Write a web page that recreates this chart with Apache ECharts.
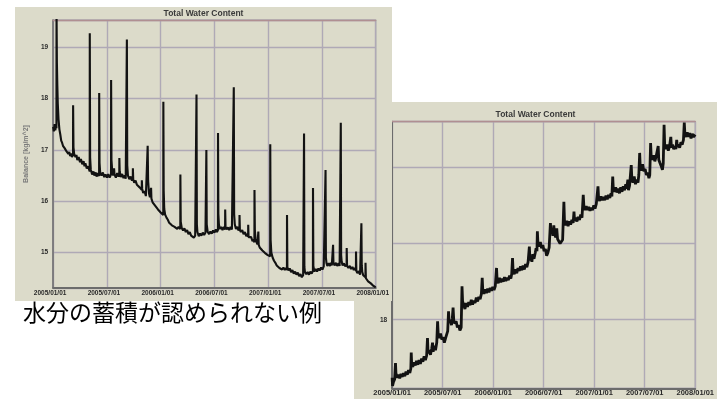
<!DOCTYPE html>
<html>
<head>
<meta charset="utf-8">
<script src="https://cdn.jsdelivr.net/npm/echarts@6/dist/echarts.min.js"></script>
<style>
  html, body { margin: 0; padding: 0; background: #ffffff; width: 717px; height: 399px; overflow: hidden; }
  body { position: relative; }
  .panel { position: absolute; }
  #gainPanel { left: 354px; top: 102px; width: 363px; height: 297px; }
  #lossPanel { left: 15px; top: 7px; width: 377px; height: 294px; }
  #captionPanel { left: 0; top: 297px; width: 354px; height: 34px; }
</style>
</head>
<body>
<div id="gainPanel" class="panel"></div>
<div id="lossPanel" class="panel"></div>
<div id="captionPanel" class="panel"></div>
<script>
// Shared text
const chartTitle = 'Total Water Content';
const yAxisName = 'Balance [kg/m^2]';
const captionText = '水分の蓄積が認められない例';
// x positions are months since 2005/01/01; ticks every 6 months
const xTickLabels = ['2005/01/01', '2005/07/01', '2006/01/01', '2006/07/01', '2007/01/01', '2007/07/01', '2008/01/01'];

// Slowly drying wall: balance [kg/m^2] vs month, with rain-event spikes
const lossBalance = [
  [0,17.45],[0.08,17.36],[0.16,17.5],[0.24,17.38],[0.32,17.46],[0.37,17.42],[0.38,19.7],[0.42,18.7],[0.47,18.25],
  [0.52,17.9],[0.6,17.6],[0.7,17.4],[0.8,17.3],[0.9,17.18],[1.0,17.14],[1.1,17.08],[1.2,17.1],[1.3,17.03],
  [1.4,17.06],[1.5,16.97],[1.6,17.0],[1.7,16.92],[1.8,16.96],[1.9,16.88],[2.0,16.93],[2.1,16.86],[2.22,16.9],
  [2.23,17.87],[2.27,17.05],[2.35,16.92],[2.5,16.86],[2.6,16.9],[2.7,16.8],[2.85,16.86],[3.0,16.76],[3.1,16.82],
  [3.25,16.72],[3.4,16.78],[3.5,16.68],[3.6,16.74],[3.75,16.64],[3.9,16.68],[4.08,16.58],[4.09,19.27],[4.13,16.85],
  [4.2,16.62],[4.35,16.52],[4.5,16.58],[4.6,16.5],[4.75,16.56],[4.85,16.48],[5.0,16.55],[5.13,16.49],[5.14,18.11],
  [5.18,16.75],[5.25,16.56],[5.4,16.5],[5.55,16.56],[5.7,16.47],[5.85,16.52],[6.0,16.46],[6.15,16.53],[6.3,16.46],
  [6.46,16.52],[6.47,18.36],[6.51,16.8],[6.6,16.58],[6.7,16.5],[6.8,16.64],[6.85,16.52],[7.0,16.46],[7.15,16.55],
  [7.3,16.48],[7.38,16.52],[7.39,16.84],[7.43,16.58],[7.55,16.47],[7.7,16.53],[7.85,16.45],[8.0,16.5],[8.1,16.44],
  [8.22,16.47],[8.23,19.15],[8.27,16.7],[8.35,16.5],[8.5,16.43],[8.65,16.48],[8.8,16.4],[8.89,16.44],[8.9,16.64],
  [8.94,16.42],[9.05,16.36],[9.2,16.4],[9.35,16.32],[9.5,16.35],[9.65,16.27],[9.8,16.3],[9.89,16.22],[9.9,16.41],
  [9.94,16.24],[10.05,16.16],[10.2,16.2],[10.35,16.1],[10.54,16.13],[10.55,17.08],[10.6,16.4],[10.7,16.15],
  [10.8,16.08],[10.92,16.1],[10.93,16.26],[10.97,16.05],[11.1,15.98],[11.25,16.01],[11.4,15.91],[11.55,15.94],
  [11.7,15.84],[11.85,15.86],[12.0,15.78],[12.15,15.8],[12.29,15.73],[12.3,17.94],[12.34,16.2],[12.4,15.85],
  [12.5,15.74],[12.65,15.68],[12.8,15.64],[12.95,15.58],[13.1,15.6],[13.25,15.53],[13.4,15.56],[13.55,15.5],
  [13.7,15.53],[13.85,15.46],[14.0,15.5],[14.19,15.46],[14.2,16.52],[14.24,15.6],[14.35,15.48],[14.5,15.43],
  [14.65,15.47],[14.8,15.4],[14.95,15.44],[15.1,15.36],[15.25,15.4],[15.4,15.33],[15.55,15.36],[15.7,15.29],
  [15.85,15.33],[15.99,15.3],[16.0,18.08],[16.04,15.55],[16.1,15.4],[16.25,15.32],[16.4,15.37],[16.55,15.33],
  [16.7,15.39],[16.85,15.34],[17.0,15.39],[17.09,15.36],[17.1,17.0],[17.14,15.55],[17.25,15.4],[17.4,15.36],
  [17.55,15.41],[17.7,15.37],[17.85,15.43],[18.0,15.39],[18.15,15.45],[18.28,15.4],[18.39,15.44],[18.4,17.33],
  [18.44,15.75],[18.5,15.55],[18.6,15.46],[18.75,15.5],[18.9,15.44],[19.05,15.5],[19.19,15.45],[19.2,15.84],
  [19.24,15.5],[19.35,15.45],[19.5,15.49],[19.65,15.44],[19.8,15.5],[19.95,15.45],[20.15,15.48],[20.16,18.22],
  [20.2,15.75],[20.27,15.55],[20.4,15.46],[20.55,15.5],[20.68,15.43],[20.79,15.47],[20.8,15.73],[20.84,15.44],
  [20.95,15.4],[21.1,15.44],[21.25,15.36],[21.4,15.4],[21.55,15.32],[21.68,15.36],[21.76,15.31],[21.77,15.54],
  [21.81,15.3],[21.95,15.27],[22.1,15.3],[22.25,15.22],[22.35,15.26],[22.46,15.2],[22.47,16.22],[22.51,15.45],
  [22.58,15.28],[22.7,15.2],[22.8,15.16],[22.89,15.18],[22.9,15.41],[22.94,15.15],[23.05,15.1],[23.2,15.13],
  [23.35,15.04],[23.5,15.06],[23.65,14.99],[23.8,15.02],[23.95,14.95],[24.1,14.97],[24.22,14.93],[24.23,17.11],
  [24.27,15.25],[24.35,15.0],[24.5,14.9],[24.65,14.84],[24.8,14.8],[24.95,14.75],[25.1,14.77],[25.25,14.7],
  [25.4,14.73],[25.55,14.67],[25.7,14.71],[25.85,14.66],[26.0,14.7],[26.09,14.66],[26.1,15.73],[26.14,14.72],
  [26.25,14.65],[26.4,14.69],[26.55,14.62],[26.7,14.66],[26.85,14.59],[27.0,14.63],[27.15,14.57],[27.3,14.61],
  [27.45,14.54],[27.6,14.58],[27.75,14.52],[27.9,14.56],[27.99,14.53],[28.0,17.32],[28.04,14.72],[28.1,14.62],
  [28.25,14.58],[28.4,14.62],[28.55,14.57],[28.7,14.63],[28.85,14.59],[28.99,14.64],[29.0,16.26],[29.04,14.74],
  [29.15,14.63],[29.3,14.68],[29.45,14.63],[29.6,14.69],[29.75,14.65],[29.9,14.71],[30.05,14.67],[30.2,14.73],
  [30.39,14.7],[30.4,16.61],[30.44,14.9],[30.5,14.8],[30.6,14.74],[30.75,14.79],[30.9,14.74],[31.0,14.8],
  [31.1,14.75],[31.23,14.78],[31.24,15.15],[31.28,14.8],[31.4,14.75],[31.55,14.8],[31.7,14.74],[31.85,14.79],
  [31.97,14.74],[32.09,14.77],[32.1,17.53],[32.14,14.95],[32.2,14.82],[32.3,14.75],[32.45,14.79],[32.6,14.73],
  [32.75,14.77],[32.76,15.09],[32.8,14.74],[32.95,14.7],[33.1,14.74],[33.25,14.68],[33.4,14.72],[33.55,14.66],
  [33.68,14.7],[33.79,14.65],[33.8,15.02],[33.84,14.64],[33.95,14.6],[34.1,14.64],[34.25,14.57],[34.39,14.6],
  [34.4,15.57],[34.44,14.75],[34.5,14.62],[34.6,14.56],[34.72,14.58],[34.85,14.52],[34.86,14.8],[34.9,14.5],
  [35.0,14.48],[35.15,14.44],[35.3,14.45],[35.45,14.4],[35.6,14.39],[35.75,14.35],[35.9,14.34],[36.0,14.32]
];

// Wetting wall: balance [kg/m^2] vs month, rising step by step
const gainBalance = [
  [0,17.24],[0.05,17.13],[0.15,17.18],[0.3,17.22],[0.4,17.43],[0.45,17.3],[0.6,17.24],[0.75,17.28],[0.9,17.23],
  [1.05,17.29],[1.2,17.25],[1.35,17.3],[1.5,17.26],[1.65,17.32],[1.8,17.28],[1.95,17.34],[2.1,17.3],[2.22,17.36],
  [2.27,17.57],[2.32,17.42],[2.45,17.38],[2.6,17.44],[2.75,17.4],[2.9,17.46],[3.05,17.41],[3.2,17.47],[3.35,17.42],
  [3.5,17.49],[3.65,17.45],[3.8,17.52],[3.95,17.47],[4.1,17.53],[4.2,17.76],[4.27,17.56],[4.4,17.6],[4.55,17.54],
  [4.7,17.62],[4.8,17.7],[4.87,17.58],[5.0,17.66],[5.15,17.6],[5.3,17.7],[5.4,17.98],[5.47,17.82],[5.6,17.76],
  [5.75,17.82],[5.9,17.74],[6.05,17.77],[6.2,17.7],[6.35,17.76],[6.5,17.74],[6.6,17.85],[6.7,18.11],[6.77,17.97],
  [6.9,18.0],[7.05,17.93],[7.15,18.02],[7.24,18.16],[7.32,17.99],[7.45,17.95],[7.6,17.98],[7.75,17.9],[7.9,17.93],
  [8.05,17.86],[8.2,17.9],[8.3,18.44],[8.37,18.24],[8.5,18.2],[8.65,18.14],[8.8,18.22],[8.95,18.17],[9.1,18.23],
  [9.25,18.19],[9.4,18.26],[9.55,18.2],[9.7,18.25],[9.85,18.22],[10.0,18.29],[10.15,18.24],[10.3,18.3],[10.45,18.27],
  [10.6,18.34],[10.7,18.55],[10.77,18.38],[10.9,18.34],[11.05,18.4],[11.2,18.35],[11.35,18.41],[11.5,18.36],
  [11.65,18.42],[11.8,18.38],[11.95,18.43],[12.1,18.39],[12.25,18.44],[12.4,18.68],[12.47,18.52],[12.6,18.48],
  [12.75,18.55],[12.9,18.49],[13.05,18.54],[13.2,18.5],[13.35,18.56],[13.5,18.51],[13.65,18.55],[13.8,18.52],
  [13.95,18.58],[14.1,18.54],[14.2,18.6],[14.3,18.81],[14.37,18.63],[14.5,18.6],[14.65,18.66],[14.8,18.61],
  [14.95,18.68],[15.1,18.64],[15.25,18.7],[15.4,18.65],[15.55,18.71],[15.7,18.66],[15.85,18.73],[16.0,18.69],
  [16.15,18.76],[16.3,18.96],[16.37,18.78],[16.5,18.82],[16.6,18.76],[16.7,18.86],[16.85,18.8],[17.0,18.88],
  [17.1,18.94],[17.2,18.9],[17.25,19.16],[17.32,19.0],[17.45,18.96],[17.6,19.02],[17.75,18.94],[17.9,18.98],
  [18.05,18.9],[18.2,18.93],[18.35,18.84],[18.5,18.88],[18.65,18.95],[18.8,19.27],[18.87,19.14],[19.0,19.2],
  [19.1,19.1],[19.2,19.24],[19.3,19.12],[19.45,19.08],[19.55,19.2],[19.65,19.06],[19.8,19.04],[19.95,19.0],
  [20.1,18.98],[20.25,19.05],[20.4,19.55],[20.47,19.3],[20.6,19.24],[20.75,19.3],[20.9,19.23],[21.05,19.29],
  [21.2,19.25],[21.35,19.31],[21.5,19.27],[21.6,19.42],[21.67,19.3],[21.8,19.34],[21.95,19.29],[22.1,19.35],
  [22.25,19.31],[22.4,19.38],[22.55,19.34],[22.7,19.64],[22.77,19.5],[22.9,19.44],[23.05,19.49],[23.2,19.44],
  [23.35,19.48],[23.5,19.43],[23.65,19.47],[23.8,19.44],[23.95,19.5],[24.1,19.46],[24.25,19.52],[24.35,19.5],
  [24.45,19.75],[24.52,19.6],[24.65,19.56],[24.8,19.62],[24.95,19.57],[25.1,19.61],[25.25,19.57],[25.4,19.63],
  [25.55,19.58],[25.7,19.64],[25.85,19.6],[26.0,19.66],[26.1,19.62],[26.2,19.88],[26.27,19.72],[26.4,19.68],
  [26.55,19.74],[26.7,19.67],[26.85,19.72],[27.0,19.66],[27.15,19.74],[27.3,19.68],[27.45,19.75],[27.6,19.7],
  [27.75,19.78],[27.85,19.72],[28.0,19.84],[28.07,19.7],[28.2,19.76],[28.3,19.74],[28.4,20.03],[28.47,19.86],
  [28.6,19.8],[28.75,19.88],[28.9,19.78],[29.05,19.84],[29.2,19.8],[29.3,19.9],[29.4,20.19],[29.47,20.0],
  [29.6,19.96],[29.75,20.04],[29.9,19.95],[30.05,19.98],[30.2,19.9],[30.35,19.93],[30.5,19.86],[30.6,19.9],
  [30.7,20.32],[30.77,20.14],[30.9,20.1],[31.05,20.16],[31.2,20.08],[31.35,20.14],[31.5,20.12],[31.6,20.28],
  [31.67,20.1],[31.8,20.06],[31.95,20.02],[32.1,19.97],[32.2,20.05],[32.3,20.56],[32.37,20.3],[32.5,20.24],
  [32.65,20.3],[32.8,20.22],[32.95,20.28],[33.1,20.4],[33.17,20.26],[33.3,20.3],[33.45,20.24],[33.6,20.28],
  [33.7,20.24],[33.8,20.36],[33.87,20.27],[34.0,20.3],[34.15,20.26],[34.3,20.33],[34.45,20.3],[34.6,20.36],
  [34.7,20.59],[34.77,20.44],[34.9,20.4],[35.05,20.46],[35.2,20.4],[35.35,20.45],[35.5,20.38],[35.65,20.44],
  [35.8,20.4],[36.0,20.43]
];

// Colours of the old plotting program
const panelBg = '#dcdbca';
const gridColor = '#afa9b6';
const frameColor = '#9c9ca4';
const topFrameColor = '#b08f92';
const axisColor = '#6c6c6c';
const traceColor = '#121212';

function panelOption(cfg) {
  return {
    animation: false,
    backgroundColor: panelBg,
    textStyle: { fontFamily: '"Liberation Sans", Arial, sans-serif' },
    title: {
      text: chartTitle,
      left: 'center',
      top: cfg.titleTop,
      padding: cfg.titlePadding,
      textStyle: { fontSize: 8.5, fontWeight: 'bold', color: '#3a3a3a' }
    },
    grid: {
      left: cfg.grid.left, top: cfg.grid.top, width: cfg.grid.width, height: cfg.grid.height,
      show: true, borderColor: frameColor, borderWidth: 1.2, backgroundColor: 'transparent'
    },
    xAxis: [
      {
        type: 'value', min: 0, max: 36, interval: 6, position: 'bottom',
        axisLine: { onZero: false, lineStyle: { color: axisColor, width: 2 } },
        axisTick: { show: false },
        splitLine: { show: true, lineStyle: { color: gridColor, width: 1.4 } },
        axisLabel: {
          formatter: v => xTickLabels[Math.round(v / 6)],
          fontSize: cfg.xFont, fontWeight: 'bold', color: '#2a2a2a',
          margin: cfg.xMargin, padding: cfg.xPad
        }
      },
      {
        type: 'value', min: 0, max: 36, position: 'top',
        axisLine: { onZero: false, lineStyle: { color: topFrameColor, width: 1.3 } },
        axisTick: { show: false }, axisLabel: { show: false }, splitLine: { show: false }
      }
    ],
    yAxis: {
      type: 'value', min: cfg.yMin, max: cfg.yMax, minInterval: 1, maxInterval: 1,
      name: yAxisName, nameLocation: 'middle', nameGap: 12, nameRotate: 90,
      nameTextStyle: { fontSize: 7, fontWeight: 'bold', color: '#7a7a7a' },
      axisLine: { show: true, onZero: false, lineStyle: { color: axisColor, width: cfg.yLineWidth } },
      axisTick: { show: false },
      splitLine: { show: true, lineStyle: { color: gridColor, width: 1.4 } },
      axisLabel: { fontSize: 6.5, fontWeight: 'bold', color: '#2a2a2a', margin: 5, showMinLabel: false, showMaxLabel: false }
    },
    series: [{
      type: 'line', data: cfg.data, showSymbol: false, clip: true,
      lineStyle: { color: traceColor, width: cfg.traceWidth }
    }]
  };
}

const gainChart = echarts.init(document.getElementById('gainPanel'), null, { renderer: 'canvas' });
gainChart.setOption(panelOption({
  grid: { left: 23, top: 19.7, width: 338, height: 266.6 },
  titleTop: 8, titlePadding: [0, 0, 0, 0],
  yMin: 17.1, yMax: 20.6, yLineWidth: 2,
  xFont: 7.5, xMargin: 1, xPad: [0, 0, 0, 0],
  traceWidth: 2.8,
  data: gainBalance
}));

const lossChart = echarts.init(document.getElementById('lossPanel'), null, { renderer: 'canvas' });
lossChart.setOption(panelOption({
  grid: { left: 25.5, top: 13, width: 340.5, height: 268 },
  titleTop: 2, titlePadding: [0, 11, 0, 0],
  yMin: 14.31, yMax: 19.53, yLineWidth: 1.5,
  xFont: 6.5, xMargin: 2, xPad: [0, 6, 0, 0],
  traceWidth: 2.1,
  data: lossBalance
}));

const captionChart = echarts.init(document.getElementById('captionPanel'), null, { renderer: 'canvas' });
captionChart.setOption({
  animation: false,
  title: {
    text: captionText, left: 23, top: 4, padding: 0,
    textStyle: { fontSize: 23, fontWeight: 'normal', color: '#000000', fontFamily: '"Noto Sans CJK JP", sans-serif' }
  }
});
</script>
</body>
</html>
